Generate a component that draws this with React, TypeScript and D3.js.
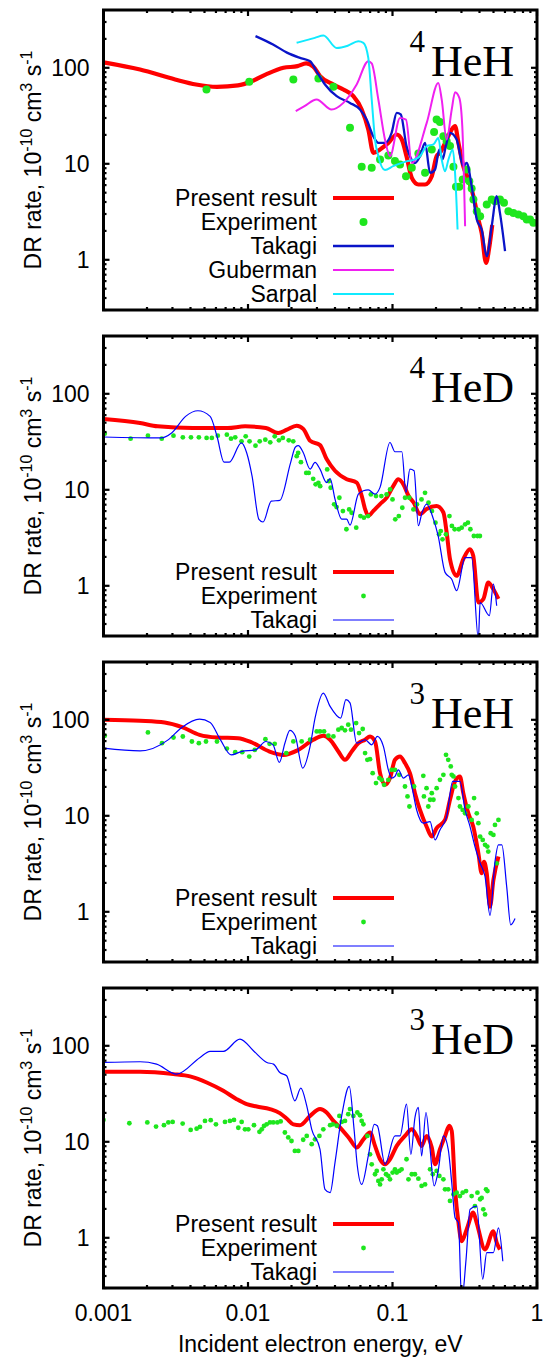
import React from "react";
import * as d3 from "d3";

type Pt = [number, number];

// layout
const W = 547;
const H = 1359;
const plotLeft = 103.5;
const plotRight = 537;
const panelTops = [10, 336, 662, 988];
const panelH = 300;

// axes
const xDomain: [number, number] = [0.001, 1];
const yDomain: [number, number] = [0.3, 400];
const xTicks = [0.001, 0.01, 0.1, 1];
const xTickLabels = ["0.001", "0.01", "0.1", "1"];
const yTicks = [1, 10, 100];
const yTickLabels = ["1", "10", "100"];
const isotopes = ["4", "4", "3", "3"];
const molecules = ["HeH", "HeD", "HeH", "HeD"];

// ---- 4HeH ----
const heh4Present: Pt[] = [
  [0.001, 114], [0.00179, 96], [0.00313, 75.6], [0.00437, 67], [0.0061, 63.4], [0.00853, 65.5],
  [0.01066, 72.6], [0.01333, 85.3], [0.0176, 100], [0.022, 104], [0.0253, 111], [0.0283, 103],
  [0.0315, 82], [0.039, 67], [0.0457, 59.4], [0.0536, 50.6], [0.0612, 36.8], [0.068, 22.8],
  [0.0738, 13], [0.082, 14.1], [0.0936, 16.5], [0.107, 20.2], [0.116, 17.9], [0.125, 12],
  [0.136, 7.14], [0.151, 6.09], [0.168, 6.09], [0.187, 7.43], [0.202, 12], [0.213, 13],
  [0.237, 17.9], [0.257, 22.8], [0.271, 24.7], [0.286, 16.5], [0.309, 9.44], [0.335, 6.86],
  [0.363, 4.6], [0.393, 2.63], [0.414, 1.91], [0.444, 0.93], [0.465, 1.28], [0.49, 2.3],
];
const heh4Experiment: Pt[] = [
  [0.00516, 59.5], [0.0102, 71.5], [0.0206, 75.6], [0.0307, 77.5], [0.039, 63.3], [0.0508, 23.7],
  [0.0612, 9.3], [0.0718, 9.1], [0.082, 11.1], [0.0936, 12.2], [0.104, 10.7], [0.1127, 9.84],
  [0.124, 7.43], [0.136, 9.1], [0.151, 12.8], [0.168, 8.05], [0.187, 14.1], [0.194, 21.4],
  [0.202, 28.9], [0.213, 27.2], [0.225, 19.4], [0.237, 17.2], [0.25, 15.3], [0.264, 9.3],
  [0.275, 5.75], [0.29, 5.75], [0.306, 6.86], [0.326, 8.73], [0.34, 6.59], [0.353, 5.53],
  [0.363, 4.25], [0.383, 3.21], [0.404, 2.85], [0.449, 3.77], [0.486, 4.25], [0.512, 4.08],
  [0.554, 4.25], [0.591, 3.92], [0.634, 3.21], [0.686, 3.08], [0.743, 2.96], [0.805, 2.85],
  [0.849, 2.63], [0.895, 2.63], [0.944, 2.43],
];
const heh4Takagi: Pt[] = [
  [0.01127, 214], [0.0149, 175], [0.0186, 144], [0.0229, 127], [0.0269, 117], [0.0298, 92],
  [0.0341, 67], [0.0411, 50.6], [0.0508, 43.1], [0.0596, 36.8], [0.0662, 28.9], [0.0736, 19.4],
  [0.0798, 16.5], [0.0887, 16.5], [0.0986, 21], [0.107, 34], [0.114, 32.7], [0.125, 15.3],
  [0.132, 12], [0.143, 10.2], [0.155, 12], [0.168, 16.5], [0.182, 8.05], [0.197, 8.73],
  [0.211, 14.1], [0.222, 11.1], [0.234, 15.3], [0.25, 21], [0.278, 17.9], [0.309, 9.44],
  [0.326, 10.2], [0.353, 5.85], [0.383, 2.63], [0.414, 2.07], [0.449, 1.09], [0.486, 2.24],
  [0.526, 4.6], [0.554, 3.08], [0.601, 1.23],
];
const heh4Guberman: Pt[] = [
  [0.0214, 35.4], [0.0246, 39.9], [0.0298, 46.8], [0.0379, 36.8], [0.0457, 43.1], [0.0565, 67],
  [0.068, 117], [0.0718, 111], [0.0798, 46.8], [0.0887, 17.9], [0.0961, 12], [0.1127, 30],
  [0.124, 28.9], [0.136, 10.2], [0.1725, 26.7], [0.2075, 69.6], [0.219, 46.8], [0.237, 17.9],
  [0.257, 36.8], [0.271, 55.7], [0.29, 48.7], [0.304, 24.7], [0.318, 2.24],
];
const heh4Sarpal: Pt[] = [
  [0.0217, 182], [0.029, 205], [0.0333, 217], [0.0411, 161], [0.049, 170], [0.058, 189],
  [0.0629, 182], [0.068, 127], [0.0718, 46.8], [0.0757, 17.9], [0.0798, 12], [0.0887, 8.6],
  [0.101, 9.44], [0.125, 10.6], [0.143, 11.1], [0.155, 12], [0.1725, 15.3], [0.192, 15.9],
  [0.2075, 18.6], [0.219, 11.1], [0.231, 8.38], [0.244, 11.1], [0.261, 14.1], [0.271, 8.05],
  [0.278, 3.62], [0.282, 2.07],
];

// ---- 4HeD ----
const hed4Present: Pt[] = [
  [0.001, 54.6], [0.00179, 49.6], [0.00237, 45.8], [0.00414, 44], [0.00723, 44], [0.00955, 45.8],
  [0.0133, 44], [0.0162, 39], [0.0186, 42.3], [0.0217, 46.5], [0.0242, 42.9], [0.0269, 32.4],
  [0.0315, 29.2], [0.035, 20.9], [0.04, 15.8], [0.0482, 12.9], [0.0565, 11.9], [0.0612, 8.67],
  [0.0646, 6.3], [0.068, 5.36], [0.0737, 6.04], [0.082, 7.1], [0.0912, 8.3], [0.1014, 11],
  [0.1097, 12.9], [0.119, 11.4], [0.129, 8.67], [0.14, 7.38], [0.155, 5.58], [0.172, 6.3],
  [0.202, 6.8], [0.225, 5.8], [0.237, 3.6], [0.25, 1.9], [0.278, 1.27], [0.309, 1.9],
  [0.343, 2.41], [0.362, 2.06], [0.393, 0.67], [0.425, 0.726], [0.46, 1.08], [0.499, 0.92],
  [0.541, 0.73],
];
const hed4Experiment: Pt[] = [
  [0.00102, 38.4], [0.00154, 34.1], [0.00203, 36.6], [0.00253, 34.1], [0.00305, 36.6], [0.00354, 35.2],
  [0.00403, 35.2], [0.00457, 35.2], [0.00517, 34.7], [0.00562, 34.7], [0.00618, 36.6], [0.00714, 37.5],
  [0.00763, 34.1], [0.00816, 35.2], [0.00902, 32], [0.00964, 36.1], [0.01025, 32], [0.01127, 28.8],
  [0.01205, 32], [0.01318, 33.3], [0.01425, 31.2], [0.01531, 36.1], [0.01637, 32.8], [0.01741, 34.7],
  [0.01914, 32.8], [0.02056, 32], [0.02173, 22.4], [0.02223, 24.2], [0.02324, 19.4], [0.02529, 15],
  [0.0263, 15], [0.02826, 13], [0.02938, 11.4], [0.0307, 11.8], [0.03158, 10.9], [0.03532, 16.3],
  [0.0363, 12.3], [0.03733, 10.5], [0.03945, 7.05], [0.041, 6.61], [0.04289, 8.26], [0.04537, 6],
  [0.04797, 3.88], [0.05012, 6.25], [0.05212, 5.77], [0.0561, 4.03], [0.05998, 5.33], [0.06339, 5.12],
  [0.06776, 5.33], [0.07081, 8.95], [0.07692, 8.6], [0.08375, 8.6], [0.091, 8.95], [0.09616, 10.1],
  [0.1, 7.94], [0.1045, 4.92], [0.1106, 5.33], [0.1169, 6.5], [0.1222, 8.26], [0.1306, 8.26],
  [0.1396, 6.25], [0.1476, 7.05], [0.1588, 7.94], [0.1679, 9.3], [0.1774, 7.33], [0.1875, 6],
  [0.1983, 4.54], [0.2099, 3.44], [0.2158, 3.72], [0.2218, 3.05], [0.2344, 3.44], [0.2478, 5.33],
  [0.2576, 4.2], [0.2692, 3.88], [0.2877, 3.88], [0.3012, 4.03], [0.3183, 4.37], [0.3327, 4.54],
  [0.3459, 3.88], [0.3656, 3.3], [0.3873, 3.3], [0.4025, 3.3],
];
const hed4Takagi: Pt[] = [
  [0.001, 35.5], [0.0025, 34.7], [0.00296, 39], [0.0037, 58.2], [0.0045, 66.6], [0.00547, 58.2],
  [0.0061, 36.1], [0.00683, 19.4], [0.00743, 19.4], [0.009, 30.8], [0.0098, 24.2], [0.01067, 13.9],
  [0.0119, 4.92], [0.0127, 4.62], [0.0145, 7.63], [0.0166, 7.75], [0.0197, 19.1], [0.0213, 27.9],
  [0.0223, 28.8], [0.0241, 24.5], [0.0269, 16.4], [0.0291, 19.3], [0.0315, 16.4], [0.035, 11.9],
  [0.037, 13.1], [0.04, 8], [0.0445, 4.95], [0.0482, 4.95], [0.0508, 4.29], [0.058, 9],
  [0.0629, 9.77], [0.068, 10], [0.0757, 9], [0.082, 10.6], [0.096, 31.1], [0.104, 24.9],
  [0.116, 24.9], [0.124, 9.38], [0.132, 16.4], [0.141, 15.8], [0.151, 4.22], [0.159, 5.58],
  [0.172, 7.1], [0.192, 4.95], [0.207, 3.32], [0.231, 1.38], [0.257, 1.17], [0.278, 0.89],
  [0.318, 1.97], [0.353, 1.97], [0.393, 0.28], [0.404, 0.67], [0.468, 0.49], [0.499, 1.04],
  [0.526, 0.62],
];

// ---- 3HeH ----
const heh3Present: Pt[] = [
  [0.001, 100], [0.00179, 97.7], [0.00265, 93.8], [0.0035, 83.8], [0.00462, 69.7], [0.0061, 65.4],
  [0.00853, 64.4], [0.01066, 58], [0.0141, 46.7], [0.0176, 43.1], [0.022, 48], [0.0283, 62],
  [0.0332, 68.2], [0.037, 62], [0.0422, 46.8], [0.0469, 38.3], [0.0522, 46.8], [0.058, 57.1],
  [0.0646, 62], [0.0699, 67.1], [0.0757, 59.6], [0.082, 27.8], [0.0888, 21], [0.0961, 24.7],
  [0.104, 38.3], [0.1127, 41.5], [0.122, 35.4], [0.132, 27.8], [0.143, 17.2], [0.155, 11.5],
  [0.172, 7.73], [0.187, 6.08], [0.202, 7.43], [0.231, 9.06], [0.25, 14.7], [0.271, 22.8],
  [0.293, 25.6], [0.309, 17.2], [0.335, 10.6], [0.362, 7.73], [0.393, 4.07], [0.414, 2.52],
  [0.43, 3.33], [0.449, 2.52], [0.473, 1.13], [0.499, 2.14], [0.541, 3.76],
];
const heh3Experiment: Pt[] = [
  [0.00102, 68.1], [0.00203, 73.8], [0.00254, 57.1], [0.00305, 65.4], [0.00354, 67], [0.00409, 59.4],
  [0.00457, 57.1], [0.00512, 59.4], [0.0061, 59.4], [0.00714, 50.2], [0.00816, 46], [0.00912, 46],
  [0.0102, 41.4], [0.01114, 48.6], [0.0132, 62.8], [0.0141, 56.2], [0.0153, 56.2], [0.0184, 44.9],
  [0.0206, 59.6], [0.0235, 59.6], [0.0269, 62], [0.0299, 75.6], [0.0315, 75.6], [0.0336, 75.6],
  [0.036, 68.2], [0.039, 67.1], [0.0422, 78.9], [0.0445, 82.1], [0.0469, 77.6], [0.0494, 88.9],
  [0.0516, 78.9], [0.056, 92.5], [0.0587, 72.8], [0.0622, 80.2], [0.0646, 45], [0.067, 38.3],
  [0.0699, 38.9], [0.0729, 27.8], [0.0769, 21.9], [0.0811, 24.7], [0.0842, 23.7], [0.0874, 21],
  [0.0936, 23.7], [0.0987, 30.1], [0.104, 30.1], [0.1114, 26.7], [0.122, 20.2], [0.127, 15.9],
  [0.131, 12.5], [0.141, 20.2], [0.1634, 26.1], [0.165, 15.9], [0.172, 19.4], [0.177, 12.5],
  [0.182, 14.7], [0.187, 17.2], [0.192, 14.7], [0.202, 19.4], [0.213, 23.7], [0.225, 26.7],
  [0.2346, 43.2], [0.243, 38.3], [0.253, 32.7], [0.257, 26.7], [0.264, 25.7], [0.271, 20.2],
  [0.286, 15.3], [0.293, 12.5], [0.306, 11.5], [0.318, 10.6], [0.335, 12.5], [0.353, 9.06],
  [0.367, 15.3], [0.383, 10.6], [0.393, 8.37], [0.404, 6.08], [0.421, 5.61], [0.437, 4.98],
  [0.453, 4.78], [0.46, 4.24], [0.478, 6.58], [0.499, 6.32], [0.512, 8.04], [0.541, 9.06],
  [0.526, 3.2],
];
const heh3Takagi: Pt[] = [
  [0.001, 50.6], [0.00179, 47.5], [0.0028, 61.8], [0.0035, 83.8], [0.00462, 101.6], [0.00547, 93.8],
  [0.00645, 61.8], [0.00764, 43.1], [0.009, 46.7], [0.01127, 48.6], [0.0133, 59.4], [0.0149, 54.8],
  [0.0165, 36], [0.018, 57], [0.0195, 77.6], [0.0212, 68.2], [0.0239, 31.4], [0.0269, 52.8],
  [0.0291, 104], [0.0332, 190], [0.037, 138], [0.0438, 104], [0.0476, 162], [0.0508, 150],
  [0.0565, 57.1], [0.0646, 62], [0.0718, 54.9], [0.0785, 67.1], [0.0865, 52.8], [0.0936, 30.1],
  [0.0988, 24.7], [0.104, 25.7], [0.1097, 30.1], [0.119, 24.7], [0.129, 26.7], [0.136, 20.2],
  [0.147, 11.5], [0.1635, 8.37], [0.182, 8.71], [0.197, 5.61], [0.213, 7.13], [0.237, 9.82],
  [0.261, 22.8], [0.293, 22.8], [0.318, 11.5], [0.344, 7.73], [0.372, 4.78], [0.404, 3.2],
  [0.437, 2.32], [0.473, 0.92], [0.512, 3.33], [0.541, 4.98], [0.571, 4.98], [0.617, 1.83],
  [0.658, 0.73], [0.705, 0.85],
];

// ---- 3HeD ----
const hed3Present: Pt[] = [
  [0.001, 53.6], [0.00179, 53.6], [0.00304, 50.7], [0.00397, 48], [0.00518, 41.5], [0.00675, 34],
  [0.00835, 27.8], [0.0098, 24.7], [0.0115, 23.3], [0.0142, 21.9], [0.0166, 19.9], [0.0185, 17.5],
  [0.0206, 15.2], [0.0229, 14.9], [0.0269, 18.6], [0.0315, 21.9], [0.035, 20.2], [0.039, 16.5],
  [0.0445, 13.5], [0.0508, 10.6], [0.0565, 8.7], [0.0629, 10.6], [0.0699, 12.5], [0.0757, 9.06],
  [0.082, 6.58], [0.0888, 5.83], [0.0961, 6.58], [0.107, 9.06], [0.122, 11.5], [0.136, 13.5],
  [0.147, 11.5], [0.159, 9.06], [0.1724, 11.5], [0.187, 8.7], [0.197, 5.83], [0.213, 8.36],
  [0.231, 11.5], [0.247, 14.7], [0.257, 13], [0.271, 3.2], [0.286, 1.44], [0.301, 0.92],
  [0.326, 1.22], [0.362, 1.83], [0.382, 1.44], [0.437, 0.757], [0.499, 1.17], [0.526, 0.89],
  [0.554, 0.757],
];
const hed3Experiment: Pt[] = [
  [0.001, 16.9], [0.00151, 15.6], [0.00201, 15.9], [0.00231, 14.4], [0.00262, 14.9], [0.00281, 15.9],
  [0.00301, 16.1], [0.00353, 15.5], [0.00401, 13.3], [0.00441, 13.7], [0.00465, 14.3], [0.00504, 16.5],
  [0.00552, 16.8], [0.006, 15.2], [0.00693, 16.1], [0.0075, 16.5], [0.008, 16.9], [0.00857, 14],
  [0.00904, 16.1], [0.00953, 13.5], [0.01005, 13.5], [0.011, 14.9], [0.012, 12.7], [0.01245, 13.5],
  [0.0129, 14.6], [0.01346, 15.2], [0.01419, 15.9], [0.01496, 15.9], [0.01596, 15.9], [0.01683, 16.3],
  [0.018, 12.5], [0.019, 11.1], [0.02, 10.2], [0.0211, 8.04], [0.0223, 8.04], [0.0241, 10.5],
  [0.0255, 11.5], [0.0276, 9.44], [0.0291, 10.6], [0.0312, 11.5], [0.0332, 13.5], [0.037, 14.9],
  [0.0386, 15.2], [0.0411, 14.7], [0.0429, 18.6], [0.0445, 16.1], [0.0469, 16.5], [0.0494, 19.4],
  [0.0508, 21.9], [0.0536, 18.6], [0.0571, 20.2], [0.0596, 18.9], [0.0612, 16.5], [0.0629, 15.2],
  [0.067, 11.5], [0.0699, 7.4], [0.0718, 5.83], [0.0757, 4.59], [0.0778, 4.97], [0.0798, 3.91],
  [0.082, 3.6], [0.0842, 4.07], [0.0865, 5.17], [0.0902, 4.59], [0.0936, 4.41], [0.0961, 4.07],
  [0.1002, 4.78], [0.104, 5.17], [0.107, 4.78], [0.1114, 4.97], [0.1156, 5.17], [0.125, 6.58],
  [0.129, 4.07], [0.136, 4.59], [0.143, 4.59], [0.151, 4.13], [0.159, 3.47], [0.168, 3.6],
  [0.182, 5.17], [0.19, 4.59], [0.202, 4.97], [0.211, 4.41], [0.225, 4.07], [0.231, 3.2],
  [0.243, 3.2], [0.25, 2.42], [0.264, 2.84], [0.278, 2.95], [0.293, 2.72], [0.306, 2.95],
  [0.323, 3.07], [0.353, 2.72], [0.372, 2.14], [0.387, 2.95], [0.404, 2.52], [0.414, 2.6],
  [0.425, 1.98], [0.444, 3.2], [0.454, 3.07], [0.437, 1.75],
];
const hed3Takagi: Pt[] = [
  [0.001, 67.1], [0.00179, 68.2], [0.00233, 64.4], [0.00321, 50.7], [0.00466, 75.7], [0.00546, 87.4],
  [0.00675, 87.4], [0.0088, 117.5], [0.0109, 88.9], [0.0135, 67.1], [0.015, 64.4], [0.0166, 52.7],
  [0.0185, 48.7], [0.0211, 26.7], [0.0232, 36.2], [0.0255, 23.7], [0.0276, 13.5], [0.0315, 8.36],
  [0.0341, 3.2], [0.037, 2.95], [0.04, 6.07], [0.0445, 18.6], [0.0502, 37.8], [0.0542, 13.5],
  [0.0571, 5.6], [0.0612, 3.6], [0.068, 7.13], [0.0748, 15.2], [0.0785, 14.7], [0.0888, 5.83],
  [0.104, 11.5], [0.1127, 11.5], [0.125, 24.7], [0.134, 7.4], [0.143, 17.9], [0.151, 22.8],
  [0.159, 7.13], [0.1705, 20.2], [0.182, 8.36], [0.194, 3.47], [0.207, 4.97], [0.225, 11.5],
  [0.243, 8.36], [0.257, 3.75], [0.271, 1.62], [0.286, 1.44], [0.301, 0.22], [0.323, 0.6],
  [0.344, 1.98], [0.383, 2.14], [0.421, 0.37], [0.449, 0.7], [0.499, 0.7], [0.541, 1.27],
  [0.58, 0.57],
];

type Series = {
  name: string;
  data: Pt[];
  color: string;
  width?: number;
  r?: number;
};

const RED = "#ff0000";
const GREEN = "#1ee61e";

const panels: Series[][] = [
  [
    { name: "Present result", data: heh4Present, color: RED, width: 4.2 },
    { name: "Experiment", data: heh4Experiment, color: GREEN, r: 4 },
    { name: "Takagi", data: heh4Takagi, color: "#0a14c8", width: 2.3 },
    { name: "Guberman", data: heh4Guberman, color: "#f020f0", width: 2 },
    { name: "Sarpal", data: heh4Sarpal, color: "#10eaff", width: 2 },
  ],
  [
    { name: "Present result", data: hed4Present, color: RED, width: 4 },
    { name: "Experiment", data: hed4Experiment, color: GREEN, r: 2.4 },
    { name: "Takagi", data: hed4Takagi, color: "#0000ff", width: 1.2 },
  ],
  [
    { name: "Present result", data: heh3Present, color: RED, width: 4 },
    { name: "Experiment", data: heh3Experiment, color: GREEN, r: 2.4 },
    { name: "Takagi", data: heh3Takagi, color: "#0000ff", width: 1.2 },
  ],
  [
    { name: "Present result", data: hed3Present, color: RED, width: 4 },
    { name: "Experiment", data: hed3Experiment, color: GREEN, r: 2.4 },
    { name: "Takagi", data: hed3Takagi, color: "#0000ff", width: 1.2 },
  ],
];

const sans = "'Liberation Sans', Arial, Helvetica, sans-serif";
const serif = "'Liberation Serif', 'Times New Roman', serif";

const x = d3.scaleLog().domain(xDomain).range([plotLeft, plotRight]);

const xMinor: number[] = [];
[0.001, 0.01, 0.1].forEach((d) => {
  for (let k = 2; k <= 9; k++) xMinor.push(d * k);
});
const yMinor: number[] = [];
[0.1, 1, 10, 100].forEach((d) => {
  for (let k = 2; k <= 9; k++) {
    const v = d * k;
    if (v > yDomain[0] && v < yDomain[1]) yMinor.push(v);
  }
});

const Panel = ({ idx }: { idx: number }) => {
  const top = panelTops[idx];
  const bottom = top + panelH;
  const y = d3.scaleLog().domain(yDomain).range([bottom, top]);
  const line = d3
    .line<Pt>()
    .x((d) => x(d[0]))
    .y((d) => y(d[1]))
    .curve(d3.curveMonotoneX);
  const series = panels[idx];
  const clipId = `clip${idx}`;
  const n = series.length;
  const cy = (top + bottom) / 2;

  return (
    <g>
      <defs>
        <clipPath id={clipId}>
          <rect x={plotLeft} y={top} width={plotRight - plotLeft} height={panelH} />
        </clipPath>
      </defs>

      {/* data */}
      <g clipPath={`url(#${clipId})`}>
        {series.map((s) =>
          s.r ? (
            <g key={s.name} fill={s.color}>
              {s.data.map((d, i) => (
                <circle key={i} cx={x(d[0])} cy={y(d[1])} r={s.r} />
              ))}
            </g>
          ) : (
            <path
              key={s.name}
              d={line(s.data) || ""}
              fill="none"
              stroke={s.color}
              strokeWidth={s.width}
              strokeLinejoin="round"
            />
          )
        )}
      </g>

      {/* ticks */}
      <g stroke="#000" strokeWidth={2.2}>
        {xTicks.map((t) => (
          <g key={"xt" + t}>
            <line x1={x(t)} x2={x(t)} y1={bottom} y2={bottom - 6} />
            <line x1={x(t)} x2={x(t)} y1={top} y2={top + 6} />
          </g>
        ))}
        {xMinor.map((t) => (
          <g key={"xm" + t}>
            <line x1={x(t)} x2={x(t)} y1={bottom} y2={bottom - 3} />
            <line x1={x(t)} x2={x(t)} y1={top} y2={top + 3} />
          </g>
        ))}
        {yTicks.map((t) => (
          <g key={"yt" + t}>
            <line x1={plotLeft} x2={plotLeft + 6} y1={y(t)} y2={y(t)} />
            <line x1={plotRight} x2={plotRight - 6} y1={y(t)} y2={y(t)} />
          </g>
        ))}
        {yMinor.map((t) => (
          <g key={"ym" + t}>
            <line x1={plotLeft} x2={plotLeft + 3} y1={y(t)} y2={y(t)} />
            <line x1={plotRight} x2={plotRight - 3} y1={y(t)} y2={y(t)} />
          </g>
        ))}
      </g>

      {/* frame */}
      <rect
        x={plotLeft}
        y={top}
        width={plotRight - plotLeft}
        height={panelH}
        fill="none"
        stroke="#000"
        strokeWidth={3}
      />

      {/* y tick labels */}
      {yTicks.map((t, i) => (
        <text
          key={"yl" + t}
          x={plotLeft - 14}
          y={y(t) + 8}
          textAnchor="end"
          fontFamily={sans}
          fontSize={23}
        >
          {yTickLabels[i]}
        </text>
      ))}

      {/* y label */}
      <text
        transform={`translate(41,${cy}) rotate(-90)`}
        textAnchor="middle"
        fontFamily={sans}
        fontSize={23}
      >
        DR rate, 10
        <tspan fontSize={16} dy={-9}>-10</tspan>
        <tspan dy={9}> cm</tspan>
        <tspan fontSize={16} dy={-9}>3</tspan>
        <tspan dy={9}> s</tspan>
        <tspan fontSize={16} dy={-9}>-1</tspan>
      </text>

      {/* title */}
      <text x={425} y={top + 42} textAnchor="end" fontFamily={serif} fontSize={31}>
        {isotopes[idx]}
      </text>
      <text x={514} y={top + 66} textAnchor="end" fontFamily={serif} fontSize={44}>
        {molecules[idx]}
      </text>

      {/* legend */}
      {series.map((s, i) => {
        const ly = top + 284 - (n - 1 - i) * 24;
        return (
          <g key={"lg" + s.name}>
            <text x={317} y={ly + 8} textAnchor="end" fontFamily={sans} fontSize={23}>
              {s.name}
            </text>
            {s.r ? (
              <circle cx={363.5} cy={ly} r={s.r} fill={s.color} />
            ) : (
              <line x1={333} x2={394} y1={ly} y2={ly} stroke={s.color} strokeWidth={s.width} />
            )}
          </g>
        );
      })}
    </g>
  );
};

export default function App() {
  const lastBottom = panelTops[3] + panelH;
  return (
    <svg
      width={W}
      height={H}
      viewBox={`0 0 ${W} ${H}`}
      style={{ position: "absolute", left: 0, top: 0, background: "#fff" }}
    >
      <rect width={W} height={H} fill="#fff" />
      {panels.map((_, i) => (
        <Panel key={i} idx={i} />
      ))}
      {xTicks.map((t, i) => (
        <text
          key={"xl" + t}
          x={x(t)}
          y={lastBottom + 33}
          textAnchor="middle"
          fontFamily={sans}
          fontSize={23}
        >
          {xTickLabels[i]}
        </text>
      ))}
      <text
        x={(plotLeft + plotRight) / 2}
        y={1352}
        textAnchor="middle"
        fontFamily={sans}
        fontSize={23}
      >
        Incident electron energy, eV
      </text>
    </svg>
  );
}
